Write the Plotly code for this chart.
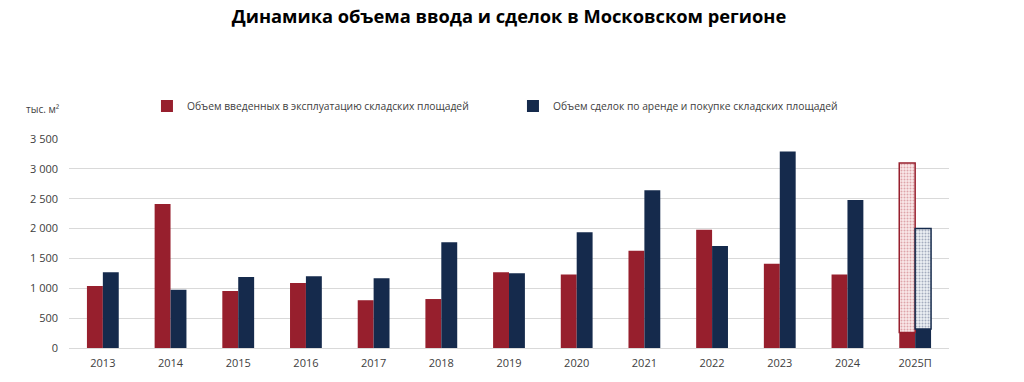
import plotly.graph_objects as go

categories = ["2013", "2014", "2015", "2016", "2017", "2018", "2019", "2020",
              "2021", "2022", "2023", "2024", "2025П"]
commissioned = [1040, 2410, 955, 1090, 800, 820, 1270, 1230, 1630, 1980, 1410, 1230, 260]
deals = [1270, 975, 1190, 1200, 1170, 1770, 1250, 1940, 2640, 1710, 3290, 2480, 320]
# forecast totals for 2025П
forecast_commissioned_total = 3100
forecast_deals_total = 2000

RED = "#971f2d"
BLUE = "#152a4c"
FONT = "Open Sans"

W, H = 1024, 382
L, T, PW, PH = 69, 139, 880, 209

fig = go.Figure()
fig.add_trace(go.Bar(
    x=categories, y=commissioned, name="Объем введенных в эксплуатацию складских площадей",
    marker=dict(color=RED, line=dict(width=0)), offsetgroup="a"))
fig.add_trace(go.Bar(
    x=categories, y=deals, name="Объем сделок по аренде и покупке складских площадей",
    marker=dict(color=BLUE, line=dict(width=0)), offsetgroup="b"))
# forecast patterned parts
fig.add_trace(go.Bar(
    x=[categories[-1]], y=[forecast_commissioned_total - commissioned[-1]], base=[commissioned[-1]],
    offsetgroup="a", showlegend=False,
    marker=dict(color="#f6dede", line=dict(color=RED, width=1.5),
                pattern=dict(shape=".", fgcolor="#c4606c", bgcolor="#f9e8e8", size=3, solidity=0.35))))
fig.add_trace(go.Bar(
    x=[categories[-1]], y=[forecast_deals_total - deals[-1]], base=[deals[-1]],
    offsetgroup="b", showlegend=False,
    marker=dict(color="#e3e7ee", line=dict(color=BLUE, width=1.5),
                pattern=dict(shape=".", fgcolor="#5b6a85", bgcolor="#eceff4", size=3, solidity=0.35))))

fig.update_layout(
    width=W, height=H,
    margin=dict(l=L, r=W - L - PW, t=T, b=H - T - PH),
    paper_bgcolor="white", plot_bgcolor="white",
    barmode="group", bargap=0.53, bargroupgap=0,
    font=dict(family=FONT, size=11, color="#404040"),
    title=dict(text="<b>Динамика объема ввода и сделок в Московском регионе</b>",
               x=0.5, xref="paper", xanchor="center", y=1 - 17 / H, yanchor="middle",
               font=dict(family=FONT, size=18.3, color="#000000")),
    legend=dict(orientation="h", x=0.0886, xanchor="left", y=(348 - 106) / PH, yanchor="middle",
                font=dict(size=10.3, color="#404040"), entrywidth=321, entrywidthmode="pixels",
                itemwidth=30, bgcolor="rgba(0,0,0,0)"),
    xaxis=dict(showgrid=False, showline=True, linecolor="#d9d9d9", linewidth=1,
               ticks="", ticklabelstandoff=5, tickfont=dict(size=11, color="#404040")),
    yaxis=dict(range=[0, 3500], dtick=500, showgrid=True, gridcolor="#d9d9d9",
               zeroline=False, showline=False, tickformat=",d",
               ticks="", ticklabelstandoff=10, tickfont=dict(size=11, color="#404040")),
    separators=". ",
)
fig.add_annotation(text="тыс. м²", xref="paper", yref="paper", x=-7 / PW, y=(348 - 109) / PH,
                   xanchor="right", yanchor="middle", showarrow=False,
                   font=dict(size=10, color="#404040"))

fig.write_html("out.html", config={"displayModeBar": False},
               post_script="document.body.style.margin='0';")
